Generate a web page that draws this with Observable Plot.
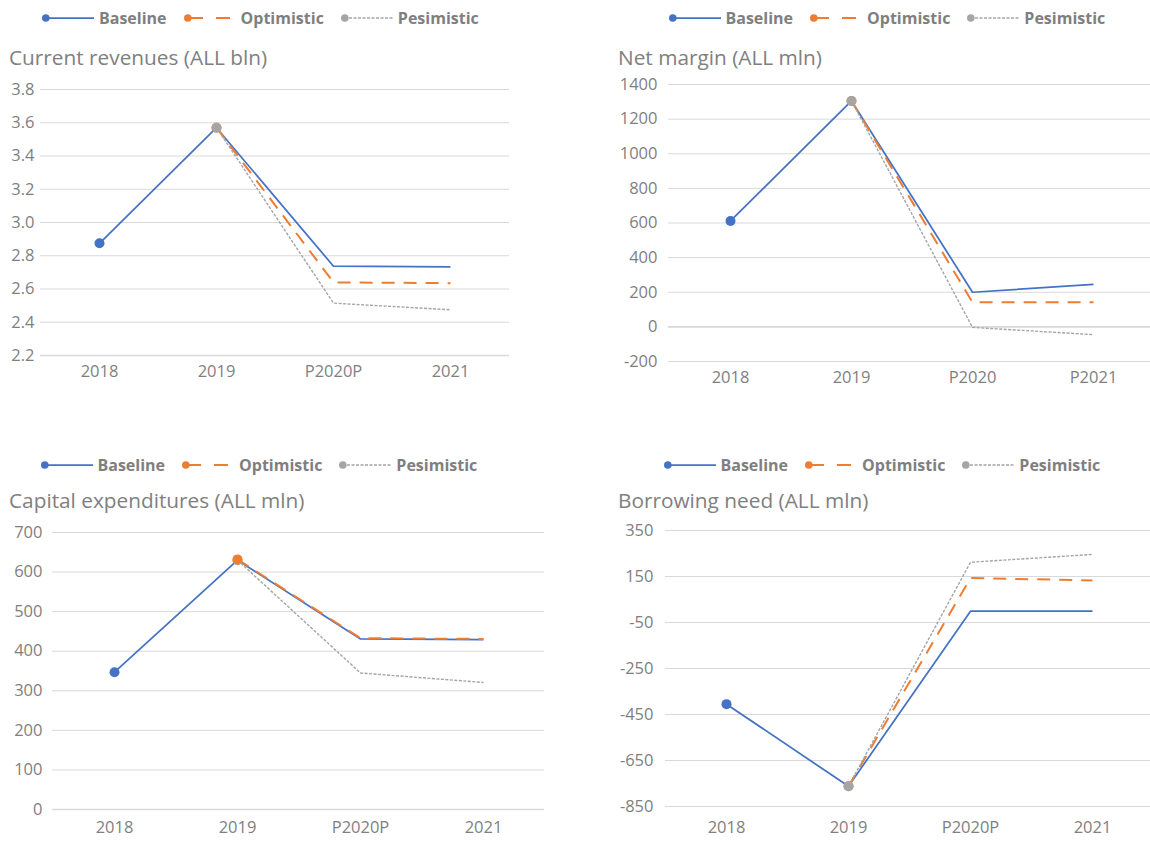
<!DOCTYPE html>
<html><head><meta charset="utf-8">
<script src="https://cdn.jsdelivr.net/npm/d3@7"></script>
<script src="https://cdn.jsdelivr.net/npm/@observablehq/plot@0.6"></script>
<style>
html,body{margin:0;padding:0;background:#fff;width:1150px;height:841px;overflow:hidden;font-family:"Open Sans",sans-serif;}
.abs{position:absolute;}
.legend{display:flex;align-items:center;font-size:16px;font-weight:700;color:#7f7f7f;line-height:20px;white-space:nowrap;}
.legend .item{display:flex;align-items:center;margin-right:17px;}
.legend svg{display:block;margin-right:5px;}
.title{font-size:20.8px;color:#808080;line-height:24px;white-space:nowrap;z-index:2;}
</style></head><body><div id="root"></div>
<script>
// ---- data ----
const catsA = ["2018", "2019", "P2020P", "2021"];
const catsB = ["2018", "2019", "P2020", "P2021"];
const seriesNames = ["Baseline", "Optimistic", "Pesimistic"];

const revBaseline = [2.875, 3.57, 2.737, 2.733];
const revOptimistic = [null, 3.57, 2.640, 2.635];
const revPesimistic = [null, 3.57, 2.515, 2.475];
const revTicks = [2.2, 2.4, 2.6, 2.8, 3.0, 3.2, 3.4, 3.6, 3.8];

const nmBaseline = [612, 1305, 200, 245];
const nmOptimistic = [null, 1305, 142, 142];
const nmPesimistic = [null, 1305, -3, -45];
const nmTicks = [-200, 0, 200, 400, 600, 800, 1000, 1200, 1400];

const capBaseline = [347, 630, 431, 429];
const capOptimistic = [null, 632, 433, 431];
const capPesimistic = [null, 630, 345, 321];
const capTicks = [0, 100, 200, 300, 400, 500, 600, 700];

const bnBaseline = [-405, -762, -1, -1];
const bnOptimistic = [null, -762, 143, 133];
const bnPesimistic = [null, -762, 212, 246];
const bnTicks = [-850, -650, -450, -250, -50, 150, 350];

// ---- styles ----
const colors = {Baseline: "#4472c4", Optimistic: "#ed7d31", Pesimistic: "#a5a5a5"};
const dashes = {Baseline: null, Optimistic: "13,9", Pesimistic: "3,1.5"};
const widths = {Baseline: 1.75, Optimistic: 2, Pesimistic: 1.4};

const root = document.getElementById("root");

function legend(left, top) {
  const div = document.createElement("div");
  div.className = "abs legend";
  div.style.left = left + "px";
  div.style.top = top + "px";
  for (const name of seriesNames) {
    const item = document.createElement("div");
    item.className = "item";
    const dash = name === "Optimistic" ? ' stroke-dasharray="14,13"' : name === "Pesimistic" ? ' stroke-dasharray="3,1.5"' : "";
    const x1 = name === "Optimistic" ? 5 : 3.5;
    item.innerHTML = `<svg width="52" height="14"><line x1="${x1}" x2="52" y1="7" y2="7" stroke="${colors[name]}" stroke-width="${widths[name]}"${dash}/><circle cx="3.8" cy="7" r="3.8" fill="${colors[name]}"/></svg><span>${name}</span>`;
    div.appendChild(item);
  }
  root.appendChild(div);
}

function title(text, left, top) {
  const div = document.createElement("div");
  div.className = "abs title";
  div.style.left = left + "px";
  div.style.top = top + "px";
  div.textContent = text;
  root.appendChild(div);
}

function chart(o) {
  const series = seriesNames.map((name, k) => ({
    name,
    data: o.cats.map((c, i) => ({cat: c, v: o.values[k][i]}))
  }));
  const marks = [
    Plot.gridY(o.ticks, {stroke: "#d9d9d9", strokeOpacity: 1, strokeWidth: 1}),
  ];
  if (o.axisAt != null) marks.push(Plot.ruleY([o.axisAt], {stroke: "#d9d9d9", strokeWidth: 1.6}));
  marks.push(
    Plot.axisY(o.ticks, {tickSize: 0, tickPadding: o.yPad, tickFormat: o.fmt}),
    Plot.axisX({tickSize: 0, tickPadding: o.xPad})
  );
  for (const s of series) {
    marks.push(Plot.line(s.data, {
      x: "cat", y: "v", stroke: colors[s.name], strokeWidth: widths[s.name],
      strokeDasharray: dashes[s.name], strokeLinecap: "butt", strokeLinejoin: "round"
    }));
  }
  for (const name of o.dotOrder) {
    const s = series.find(d => d.name === name);
    const first = s.data.filter(d => d.v != null).slice(0, 1);
    marks.push(Plot.dot(first, {x: "cat", y: "v", fill: colors[name], r: 5}));
  }
  const svg = Plot.plot({
    width: o.width, height: o.height,
    marginTop: o.mt, marginBottom: o.mb, marginLeft: o.ml, marginRight: o.mr,
    x: {type: "point", domain: o.cats, padding: 0.5, label: null},
    y: {domain: o.domain, label: null},
    style: {background: "transparent", fontSize: "16.5px", fontFamily: "Open Sans", color: "#7f7f7f", overflow: "visible", maxWidth: "none"},
    marks
  });
  const div = document.createElement("div");
  div.className = "abs";
  div.style.left = o.left + "px";
  div.style.top = o.top + "px";
  div.style.width = o.width + "px";
  div.appendChild(svg);
  root.appendChild(div);
}

const f1 = d => d.toFixed(1);
const f0 = d => String(d);

// Panel 1
chart({cats: catsA, values: [revBaseline, revOptimistic, revPesimistic], ticks: revTicks, fmt: f1,
  domain: [2.2, 3.8], left: 0, top: 70, width: 560, height: 330, mt: 19, mb: 45, ml: 40, mr: 51,
  yPad: 6, xPad: 10, axisAt: 2.2, dotOrder: ["Baseline", "Optimistic", "Pesimistic"]});
// Panel 2
chart({cats: catsB, values: [nmBaseline, nmOptimistic, nmPesimistic], ticks: nmTicks, fmt: f0,
  domain: [-200, 1400], left: 590, top: 70, width: 564, height: 330, mt: 14, mb: 39, ml: 78, mr: 0,
  yPad: 11, xPad: 10, axisAt: 0, dotOrder: ["Baseline", "Optimistic", "Pesimistic"]});
// Panel 3
chart({cats: catsA, values: [capBaseline, capOptimistic, capPesimistic], ticks: capTicks, fmt: f0,
  domain: [0, 700], left: 0, top: 510, width: 560, height: 331, mt: 22, mb: 32, ml: 52, mr: 16,
  yPad: 10, xPad: 12, axisAt: 0, dotOrder: ["Baseline", "Pesimistic", "Optimistic"]});
// Panel 4
chart({cats: catsA, values: [bnBaseline, bnOptimistic, bnPesimistic], ticks: bnTicks, fmt: f0,
  domain: [-850, 350], left: 590, top: 510, width: 564, height: 331, mt: 20, mb: 35, ml: 75, mr: 1,
  yPad: 12, xPad: 15, axisAt: null, dotOrder: ["Baseline", "Optimistic", "Pesimistic"]});

legend(42, 8);
legend(668.5, 8);
legend(40.5, 455);
legend(663.5, 455);
title("Current revenues (ALL bln)", 9, 45);
title("Net margin (ALL mln)", 618, 45);
title("Capital expenditures (ALL mln)", 9, 488);
title("Borrowing need (ALL mln)", 618, 488);
</script></body></html>
